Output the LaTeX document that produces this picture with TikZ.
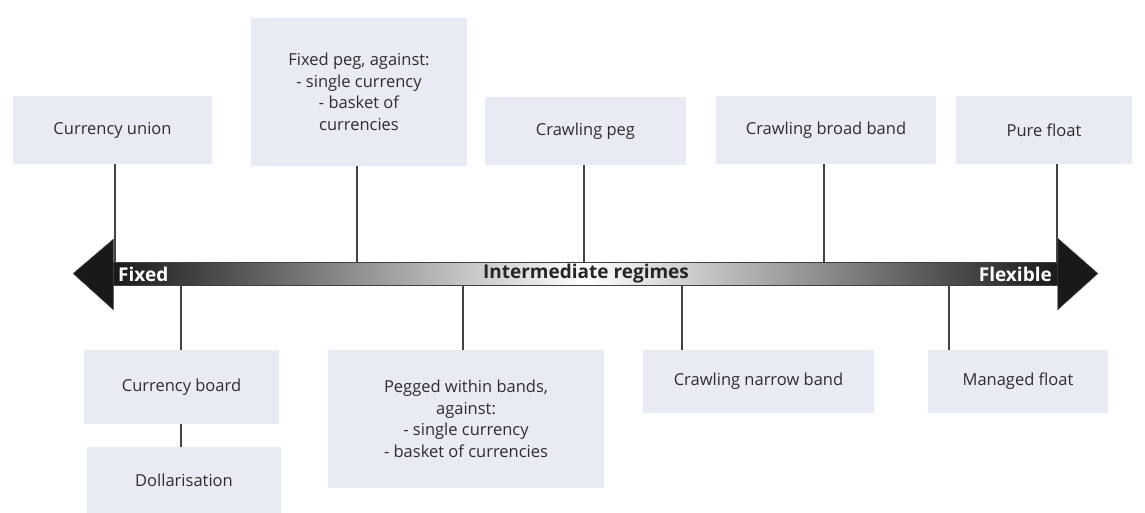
\documentclass[tikz,border=0pt]{standalone}
\usepackage{fontspec}
\setmainfont{Open Sans}
\definecolor{boxfill}{HTML}{E8EAF4}
\definecolor{txt}{HTML}{2E2E2E}
\definecolor{lin}{HTML}{444444}
\begin{document}
\begin{tikzpicture}[x=1pt,y=-1pt,
  box/.style={rectangle, fill=boxfill, inner sep=0pt, align=center, text=txt,
    font=\fontsize{16.5}{21.5}\selectfont},
  conn/.style={draw=lin, line width=1.2pt},
  bartxt/.style={font=\bfseries\fontsize{19}{21}\selectfont, inner sep=0pt}]
\useasboundingbox (0,0) rectangle (1145,513);
% top boxes
\node[box, minimum width=199pt, minimum height=68pt] (cu) at (112.5,130) {Currency union};
\node[box, minimum width=216pt, minimum height=148pt] (fp) at (359,92) {Fixed peg, against:\\- single currency\\- basket of\\currencies};
\node[box, minimum width=201pt, minimum height=68pt] (cp) at (585.5,131) {Crawling peg};
\node[box, minimum width=220pt, minimum height=68pt] (cbb) at (826,130) {Crawling broad band};
\node[box, minimum width=176pt, minimum height=68pt] (pf) at (1044,130) {Pure float};
% bottom boxes
\node[box, minimum width=195pt, minimum height=74pt] (cb) at (181.5,387) {Currency board};
\node[box, minimum width=194pt, minimum height=66pt] (dol) at (184,480) {Dollarisation};
\node[box, minimum width=276pt, minimum height=138pt] (pwb) at (466,419) {Pegged within bands,\\against:\\- single currency\\- basket of currencies};
\node[box, minimum width=231pt, minimum height=63pt] (cnb) at (758.5,381.5) {Crawling narrow band};
\node[box, minimum width=180pt, minimum height=63pt] (mf) at (1018,381.5) {Managed float};
% bar
\node[rectangle, inner sep=0pt, minimum width=945pt, minimum height=23pt,
  left color=black!90, right color=black!90, middle color=white,
  draw=black!75, line width=0.6pt] (bar) at (585.5,273.5) {};
\fill[black!90, draw=black!60, line width=0.4pt] (113.5,239) -- (73,273.5) -- (113.5,310) -- cycle;
\fill[black!90, draw=black!60, line width=0.4pt] (1057.5,238) -- (1098,273.5) -- (1057.5,310) -- cycle;
\node[bartxt, text=white, anchor=west] (fx) at (118,274) {Fixed};
\node[bartxt, text=black!85, anchor=center] (im) at (586,274) {Intermediate regimes};
\node[bartxt, text=white, anchor=east] (fl) at (1052,274) {Flexible};
% connectors
\draw[conn] ([xshift=2.5pt]cu.south) -- ([xshift=2.5pt]cu.south |- bar.north);
\draw[conn] ([xshift=-2pt]fp.south) -- ([xshift=-2pt]fp.south |- bar.north);
\draw[conn] ([xshift=-1.5pt]cp.south) -- ([xshift=-1.5pt]cp.south |- bar.north);
\draw[conn] ([xshift=-2pt]cbb.south) -- ([xshift=-2pt]cbb.south |- bar.north);
\draw[conn] ([xshift=13pt]pf.south) -- ([xshift=13pt]pf.south |- bar.north);
\draw[conn] ([xshift=-0.5pt]cb.north) -- ([xshift=-0.5pt]cb.north |- bar.south);
\draw[conn] ([xshift=-0.5pt]cb.south) -- ([xshift=-0.5pt]cb.south |- dol.north);
\draw[conn] ([xshift=-3pt]pwb.north) -- ([xshift=-3pt]pwb.north |- bar.south);
\draw[conn] ([xshift=-76.5pt]cnb.north) -- ([xshift=-76.5pt]cnb.north |- bar.south);
\draw[conn] ([xshift=-69pt]mf.north) -- ([xshift=-69pt]mf.north |- bar.south);
\end{tikzpicture}
\end{document}
